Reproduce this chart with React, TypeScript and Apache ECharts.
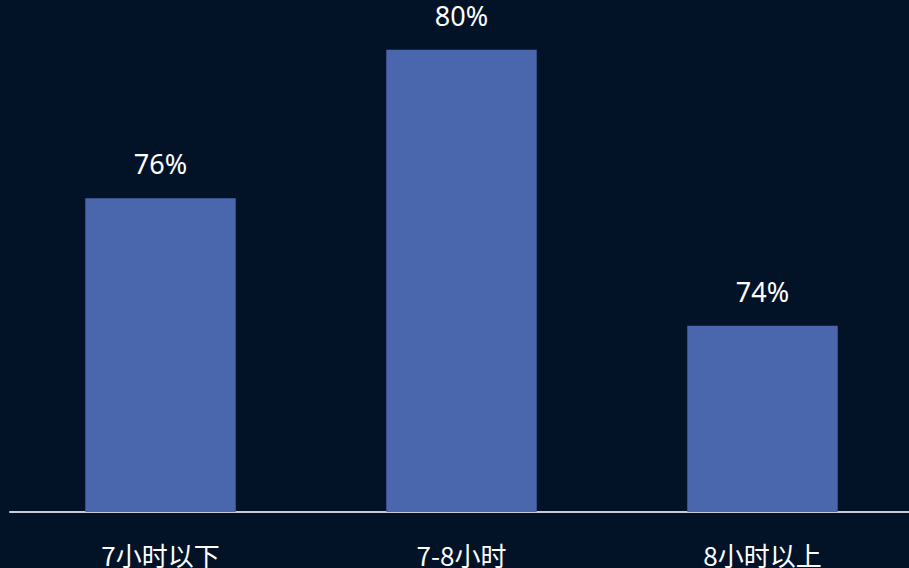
import React, { useEffect, useRef } from "react";
import * as echarts from "echarts";

const categories = ["7小时以下", "7-8小时", "8小时以上"];
const values = [76.47, 79.53, 73.84];

export default function App() {
  const ref = useRef<HTMLDivElement>(null);
  useEffect(() => {
    document.body.style.margin = "0";
    document.body.style.overflow = "hidden";
    const chart = echarts.init(ref.current!, null, { renderer: "svg" });
    chart.setOption({
      animation: false,
      backgroundColor: "#021328",
      grid: { left: 10, width: 903, top: 27, bottom: 56, containLabel: false },
      xAxis: {
        type: "category",
        data: categories,
        axisLine: { show: true, lineStyle: { color: "#c8ccd4", width: 2 } },
        axisTick: { show: false },
        axisLabel: {
          color: "#ffffff",
          fontSize: 26,
          margin: 29,
          fontFamily: "Noto Sans CJK SC, Noto Sans, sans-serif",
        },
      },
      yAxis: {
        type: "value",
        min: 70,
        max: 80,
        show: false,
        splitLine: { show: false },
      },
      series: [
        {
          type: "bar",
          data: values,
          barWidth: "50%",
          itemStyle: { color: "#4A66AC" },
          label: {
            show: true,
            position: "top",
            distance: 21,
            color: "#ffffff",
            fontSize: 27,
            fontFamily: "Noto Sans, sans-serif",
            formatter: (p: any) => Math.round(p.value) + "%",
          },
        },
      ],
    });
    return () => chart.dispose();
  }, []);
  return (
    <div style={{ position: "fixed", left: 0, top: 0, width: 909, height: 568, overflow: "hidden" }}>
      <div ref={ref} style={{ width: 913, height: 568 }} />
    </div>
  );
}
